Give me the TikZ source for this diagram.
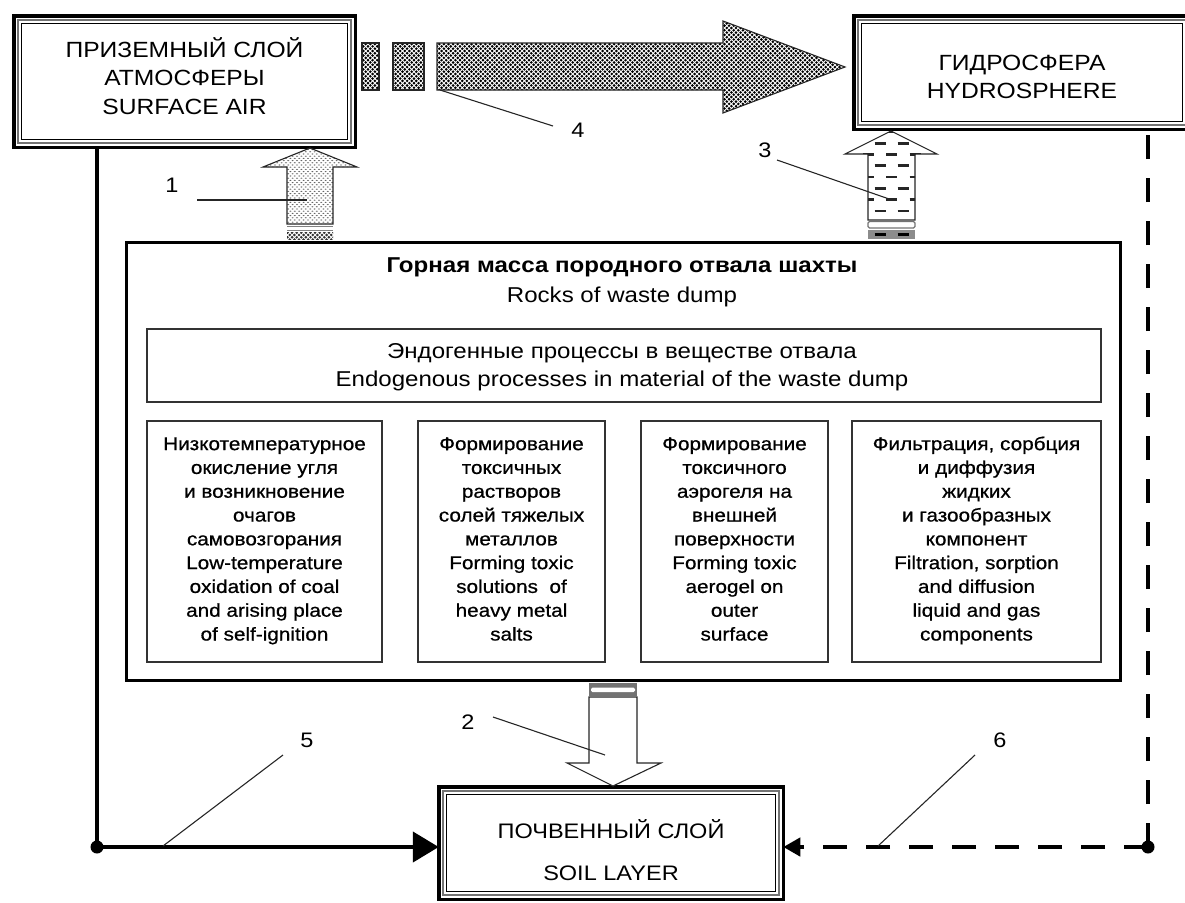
\documentclass[tikz,border=0pt]{standalone}
\usepackage{fontspec}
\setmainfont{Liberation Sans}[FakeStretch=1.12]
\newfontfamily\procfont{Liberation Sans}[FakeStretch=1.12, FakeBold=0.7]
\usetikzlibrary{arrows.meta,patterns.meta,calc}

% dense dark stipple for the air-to-water transfer arrow
\tikzdeclarepattern{
  name=densedots,
  type=uncolored,
  bottom left={(-2pt,-2pt)},
  top right={(7pt,7pt)},
  tile size={(4.6pt,4.6pt)},
  code={\fill (0pt,0pt) circle (1.45pt); \fill (2.3pt,2.3pt) circle (1.45pt);}
}
% light stipple for the gas emission arrow
\tikzdeclarepattern{
  name=lightdots,
  type=uncolored,
  bottom left={(-2pt,-2pt)},
  top right={(7pt,7pt)},
  tile size={(4.4pt,4.4pt)},
  code={\fill (0pt,0pt) ellipse (1.1pt and 0.6pt); \fill (2.2pt,2.2pt) ellipse (1.1pt and 0.6pt);}
}

% inner lines of a triple-ruled frame
\newcommand\tripleframe[1]{%
  \draw[line width=1.6pt, black!55] ([shift={(4.4,4.4)}]#1.north west) rectangle ([shift={(-4.4,-4.4)}]#1.south east);
  \draw[line width=1.3pt] ([shift={(7.6,7.6)}]#1.north west) rectangle ([shift={(-7.6,-7.6)}]#1.south east);}

\begin{document}
\begin{tikzpicture}[x=1pt,y=-1pt,
  frame/.style={draw, line width=3.5pt, inner sep=0pt, outer sep=0pt},
  dumpframe/.style={draw, line width=3pt, inner sep=0pt, outer sep=0pt},
  procbox/.style={draw=black!80, line width=1.3pt, inner sep=0pt, outer sep=0pt},
  bigtxt/.style={font=\fontsize{22}{28.5}\selectfont, align=center, inner sep=0pt},
  midtxt/.style={font=\fontsize{21.5}{30}\selectfont, align=center, inner sep=0pt},
  smalltxt/.style={font=\procfont\fontsize{18.5}{23.8}\selectfont, align=center, inner sep=0pt},
  numtxt/.style={font=\fontsize{21}{24}\selectfont, inner sep=0pt},
  leader/.style={draw=black!85, line width=1.1pt},
  flow/.style={line width=4.5pt},
  flowdash/.style={line width=4.5pt, dash pattern=on 24pt off 19pt},
  blockarrow/.style={draw=black!85, line width=1.1pt, line join=miter},
  dashmark/.style={line width=2.6pt, black!85},
]
\path[use as bounding box] (0,0) rectangle (1185,902);
\clip (0,0) rectangle (1185,902);

% ---------- environment compartments ----------
% (multi-line nodes are anchored at the baseline of their last line)
\node[frame, minimum width=341.5pt, minimum height=131.5pt] (air) at (184.5,81.5) {};
\tripleframe{air}
\node[bigtxt, anchor=base] (airtext) at (184.5,114) {ПРИЗЕМНЫЙ СЛОЙ\\АТМОСФЕРЫ\\SURFACE AIR};

\node[frame, minimum width=336.5pt, minimum height=113.5pt] (hydro) at (1022,72.5) {};
\tripleframe{hydro}
\node[bigtxt, anchor=base] (hydrotext) at (1022,98.5) {ГИДРОСФЕРА\\HYDROSPHERE};

\node[frame, minimum width=344.5pt, minimum height=112.5pt] (soil) at (611,843) {};
\tripleframe{soil}
\node[bigtxt, anchor=base, font=\fontsize{21}{42}\selectfont] (soiltext) at (611,880) {ПОЧВЕННЫЙ СЛОЙ\\SOIL LAYER};

% ---------- waste dump ----------
\node[dumpframe, minimum width=994pt, minimum height=438pt] (dump) at (623.5,461.5) {};
\node[midtxt, anchor=base] (dumptitle) at (622,302) {\textbf{Горная масса породного отвала шахты}\\Rocks of waste dump};

\node[procbox, minimum width=954pt, minimum height=73pt] (endo) at (624,365.5) {};
\node[midtxt, anchor=base, font=\fontsize{21.5}{28}\selectfont] (endotext) at (622,386)
  {Эндогенные процессы в веществе отвала\\Endogenous processes in material of the waste dump};

\node[procbox, minimum width=235pt, minimum height=241pt] (p1) at (264.5,541.5) {};
\node[procbox, minimum width=187pt, minimum height=241pt] (p2) at (511.5,541.5) {};
\node[procbox, minimum width=187pt, minimum height=241pt] (p3) at (734.5,541.5) {};
\node[procbox, minimum width=249pt, minimum height=241pt] (p4) at (976.5,541.5) {};

\node[smalltxt, anchor=base] (p1text) at (264.5,640.5) {Низкотемпературное\\окисление угля\\и возникновение\\очагов\\самовозгорания\\Low-temperature\\oxidation of coal\\and arising place\\of self-ignition};
\node[smalltxt, anchor=base] (p2text) at (511.5,640.5) {Формирование\\токсичных\\растворов\\солей тяжелых\\металлов\\Forming toxic\\solutions~~of\\heavy metal\\salts};
\node[smalltxt, anchor=base] (p3text) at (734.5,640.5) {Формирование\\токсичного\\аэрогеля на\\внешней\\поверхности\\Forming toxic\\aerogel on\\outer\\surface};
\node[smalltxt, anchor=base] (p4text) at (976.5,640.5) {Фильтрация, сорбция\\и диффузия\\жидких\\и газообразных\\компонент\\Filtration, sorption\\and diffusion\\liquid and gas\\components};

% ---------- block arrow 4: air to hydrosphere ----------
\draw[blockarrow, pattern=densedots, pattern color=black] (362,43) rectangle (379,90);
\draw[blockarrow, pattern=densedots, pattern color=black] (393,43) rectangle (424,90);
\draw[blockarrow, pattern=densedots, pattern color=black]
  (437,43) -- (723,43) -- (723,21) -- (845,67) -- (723,113) -- (723,90) -- (437,90) -- cycle;

% ---------- block arrow 1: dump to air ----------
\draw[blockarrow, pattern=lightdots, pattern color=black!60]
  (287,224) -- (287,167) -- (263,167) -- (310,148) -- (357,167) -- (333,167) -- (333,224) -- cycle;
\draw[black!50, line width=1pt] (287,226.5) -- (333,226.5);
\draw[black!50, line width=1pt] (287,230.5) -- (333,230.5);
\fill[pattern=densedots, pattern color=black!80] (287,232) rectangle (333,239);

% ---------- block arrow 3: dump to hydrosphere ----------
\def\arrowthree{(868,220) -- (868,154) -- (845,154) -- (891,131) -- (937,154) -- (915,154) -- (915,220) -- cycle}
\fill[white] \arrowthree;
\begin{scope}
  \clip \arrowthree;
  \foreach \yy in {143.3,165.6,188.2,210.8}
    \foreach \xx in {880,903}
      \draw[dashmark] (\xx-5.5,\yy) -- (\xx+5.5,\yy);
  \foreach \yy in {132,154.4,176.9,199.5}
    \foreach \xx in {868,891.5,915}
      \draw[dashmark] (\xx-5.5,\yy) -- (\xx+5.5,\yy);
\end{scope}
\draw[blockarrow] \arrowthree;
\draw[black!55, line width=1.2pt, rounded corners=1.5pt] (868,221.5) rectangle (915,228);
\fill[black!45] (868,230) rectangle (915,239);
\foreach \xx in {880,903}
  \draw[dashmark, black] (\xx-5.5,234.5) -- (\xx+5.5,234.5);

% ---------- block arrow 2: dump to soil ----------
\fill[black!55] (589,683) rectangle (637,696);
\fill[white, rounded corners=1.5pt] (591,687.5) rectangle (635,692);
\draw[blockarrow, fill=white]
  (589,697) -- (589,763) -- (567,763) -- (613,786) -- (661,763) -- (637,763) -- (637,697) -- cycle;

% ---------- direct flows 5 and 6 ----------
\coordinate (c5) at (97,847);
\coordinate (c6) at (1148,847);
\draw[flow, -{Triangle[length=26pt,width=30pt]}] (air.south -| c5) -- (c5) -- (c5 -| soil.west);
\fill (c5) circle (6.5pt);
\draw[flowdash] (c6) -- (c6 |- hydro.south);
\draw[flowdash, -{Triangle[length=17pt,width=18pt]}] (c6) -- (c6 -| soil.east);
\fill (c6) circle (6.5pt);

% ---------- reference numbers ----------
\node[numtxt] (n1) at (172,185) {1};
\coordinate (l1a) at (197,200); \coordinate (l1b) at (307,200);
\draw[leader] (l1a) -- (l1b);

\node[numtxt] (n2) at (468,722) {2};
\coordinate (l2a) at (493,717); \coordinate (l2b) at (605,755);
\draw[leader] (l2a) -- (l2b);

\node[numtxt] (n3) at (765,150) {3};
\coordinate (l3a) at (777,160); \coordinate (l3b) at (892,200);
\draw[leader] (l3a) -- (l3b);

\node[numtxt] (n4) at (578,130) {4};
\coordinate (l4a) at (440,90); \coordinate (l4b) at (553,126);
\draw[leader] (l4a) -- (l4b);

\node[numtxt] (n5) at (307,740) {5};
\coordinate (l5a) at (163,846); \coordinate (l5b) at (283,755);
\draw[leader] (l5a) -- (l5b);

\node[numtxt] (n6) at (1000,740) {6};
\coordinate (l6a) at (878,846); \coordinate (l6b) at (975,755);
\draw[leader] (l6a) -- (l6b);
\end{tikzpicture}
\end{document}
